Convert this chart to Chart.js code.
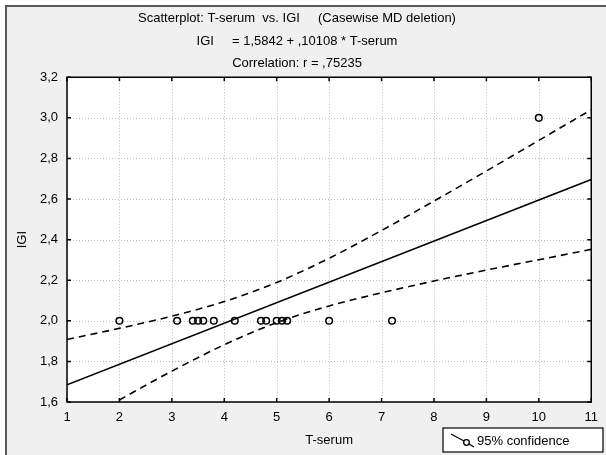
<!DOCTYPE html>
<html>
<head>
<meta charset="utf-8">
<script src="https://cdn.jsdelivr.net/npm/chart.js@4"></script>
<style>
  html, body { margin: 0; padding: 0; background: #fff; }
  #wrap { width: 606px; height: 455px; }
</style>
</head>
<body>
<div id="wrap"><canvas id="chart" width="606" height="455"></canvas></div>
<script>
// ===== Data =====
const tSerum = [2.0, 3.1, 3.4, 3.5, 3.6, 3.8, 4.2, 4.7, 4.8, 5.0, 5.1, 5.2, 6.0, 7.2, 10.0];
const igi    = [2.0, 2.0, 2.0, 2.0, 2.0, 2.0, 2.0, 2.0, 2.0, 2.0, 2.0, 2.0, 2.0, 2.0, 3.0];

const fitX = [1, 11];
const fitY = [1.685, 2.696];

const bandX     = [1, 2, 3, 4, 5, 6, 7, 8, 9, 10, 11];
const bandUpper = [1.908, 1.963, 2.023, 2.095, 2.189, 2.308, 2.445, 2.590, 2.738, 2.889, 3.040];
const bandLower = [1.463, 1.610, 1.752, 1.882, 1.991, 2.073, 2.138, 2.196, 2.250, 2.301, 2.352];

const titleLines = [
  "Scatterplot: T-serum  vs. IGI     (Casewise MD deletion)",
  "IGI     = 1,5842 + ,10108 * T-serum",
  "Correlation: r = ,75235"
];
const xLabel = "T-serum";
const yLabel = "IGI";
const legendText = "95% confidence";

const FONT = "Arial, 'Liberation Sans', sans-serif";

function pts(xs, ys) {
  return xs.map((x, i) => ({ x: x, y: ys[i] }));
}

// ===== Plugins =====
const frame = {
  id: "frame",
  beforeDraw(chart) {
    const ctx = chart.ctx;
    const a = chart.chartArea;
    ctx.save();
    ctx.fillStyle = "#ffffff";
    ctx.fillRect(0, 0, chart.width, chart.height);
    ctx.fillStyle = "#f0f0f0";
    ctx.fillRect(6, 6, chart.width, chart.height);
    ctx.strokeStyle = "#5a5a5a";
    ctx.lineWidth = 2;
    ctx.beginPath();
    ctx.moveTo(6, chart.height);
    ctx.lineTo(6, 6);
    ctx.lineTo(chart.width, 6);
    ctx.stroke();
    ctx.fillStyle = "#ffffff";
    ctx.fillRect(a.left, a.top, a.right - a.left, a.bottom - a.top);
    ctx.restore();
  },
  beforeDatasetsDraw(chart) {
    // dotted grid
    const ctx = chart.ctx;
    const a = chart.chartArea;
    const xs = chart.scales.x, ys = chart.scales.y;
    ctx.save();
    ctx.strokeStyle = "#bdbdbd";
    ctx.lineWidth = 1;
    ctx.setLineDash([1, 2]);
    ctx.beginPath();
    xs.ticks.forEach(t => {
      const px = Math.round(xs.getPixelForValue(t.value)) + 0.5;
      ctx.moveTo(px, a.top); ctx.lineTo(px, a.bottom);
    });
    ys.ticks.forEach(t => {
      const py = Math.round(ys.getPixelForValue(t.value)) + 0.5;
      ctx.moveTo(a.left, py); ctx.lineTo(a.right, py);
    });
    ctx.stroke();
    ctx.restore();
  },
  afterDraw(chart) {
    const ctx = chart.ctx;
    const a = chart.chartArea;
    const xs = chart.scales.x, ys = chart.scales.y;
    ctx.save();
    ctx.strokeStyle = "#000";
    ctx.lineWidth = 1.5;
    ctx.strokeRect(a.left, a.top, a.right - a.left, a.bottom - a.top);
    // inward tick marks on all four sides
    ctx.beginPath();
    xs.ticks.forEach(t => {
      const px = xs.getPixelForValue(t.value);
      ctx.moveTo(px, a.bottom); ctx.lineTo(px, a.bottom - 4);
      ctx.moveTo(px, a.top); ctx.lineTo(px, a.top + 4);
    });
    ys.ticks.forEach(t => {
      const py = ys.getPixelForValue(t.value);
      ctx.moveTo(a.left, py); ctx.lineTo(a.left + 4, py);
      ctx.moveTo(a.right, py); ctx.lineTo(a.right - 4, py);
    });
    ctx.stroke();

    // legend box
    const bx = 443, by = 428, bw = 160, bh = 24;
    ctx.fillStyle = "#ffffff";
    ctx.fillRect(bx, by, bw, bh);
    ctx.lineWidth = 1.2;
    ctx.strokeRect(bx, by, bw, bh);
    ctx.lineWidth = 1.3;
    ctx.beginPath();
    ctx.moveTo(bx + 8, by + 6);
    ctx.lineTo(bx + 21, by + 13);
    ctx.moveTo(bx + 26, by + 16);
    ctx.lineTo(bx + 31, by + 19);
    ctx.stroke();
    ctx.beginPath();
    ctx.arc(bx + 23.5, by + 14.5, 2.8, 0, Math.PI * 2);
    ctx.stroke();
    ctx.fillStyle = "#000";
    ctx.font = "13px " + FONT;
    ctx.textBaseline = "middle";
    ctx.fillText(legendText, bx + 34, by + bh / 2 + 1);
    ctx.restore();
  }
};

// ===== Chart =====
const ctx = document.getElementById("chart").getContext("2d");
new Chart(ctx, {
  type: "scatter",
  data: {
    datasets: [
      {
        label: "cases",
        data: pts(tSerum, igi),
        pointStyle: "circle",
        pointRadius: 3.3,
        pointBorderWidth: 1.5,
        pointBorderColor: "#000",
        pointBackgroundColor: "rgba(0,0,0,0)",
        showLine: false
      },
      {
        label: "fit",
        data: pts(fitX, fitY),
        showLine: true,
        borderColor: "#000",
        borderWidth: 1.6,
        pointRadius: 0
      },
      {
        label: "upper",
        data: pts(bandX, bandUpper),
        showLine: true,
        borderColor: "#000",
        borderWidth: 1.6,
        borderDash: [7, 5],
        cubicInterpolationMode: "monotone",
        pointRadius: 0
      },
      {
        label: "lower",
        data: pts(bandX, bandLower),
        showLine: true,
        borderColor: "#000",
        borderWidth: 1.6,
        borderDash: [7, 5],
        cubicInterpolationMode: "monotone",
        pointRadius: 0
      }
    ]
  },
  options: {
    responsive: false,
    animation: false,
    devicePixelRatio: 1,
    layout: { padding: { top: 0, left: 0, right: 12, bottom: 0 } },
    plugins: {
      legend: { display: false },
      tooltip: { enabled: false },
      title: {
        display: true,
        text: titleLines,
        color: "#000",
        font: { family: FONT, size: 13, weight: "normal", lineHeight: 1.75 },
        padding: { top: 7, bottom: 2 }
      }
    },
    scales: {
      x: {
        type: "linear",
        min: 1, max: 11,
        afterFit: s => { s.height = 53; },
        ticks: { stepSize: 1, color: "#000", padding: 8, font: { family: FONT, size: 13 } },
        grid: { display: false, drawTicks: false },
        border: { display: false },
        title: { display: true, text: xLabel, color: "#000", font: { family: FONT, size: 13 }, padding: { top: 0, bottom: 7 } }
      },
      y: {
        type: "linear",
        min: 1.6, max: 3.2,
        afterFit: s => { s.width = 67; },
        ticks: {
          stepSize: 0.2, color: "#000", padding: 9,
          font: { family: FONT, size: 13 },
          callback: v => v.toFixed(1).replace(".", ",")
        },
        grid: { display: false, drawTicks: false },
        border: { display: false },
        title: { display: true, text: yLabel, color: "#000", font: { family: FONT, size: 13 }, padding: { top: 15, bottom: 0 } }
      }
    }
  },
  plugins: [frame]
});
</script>
</body>
</html>
